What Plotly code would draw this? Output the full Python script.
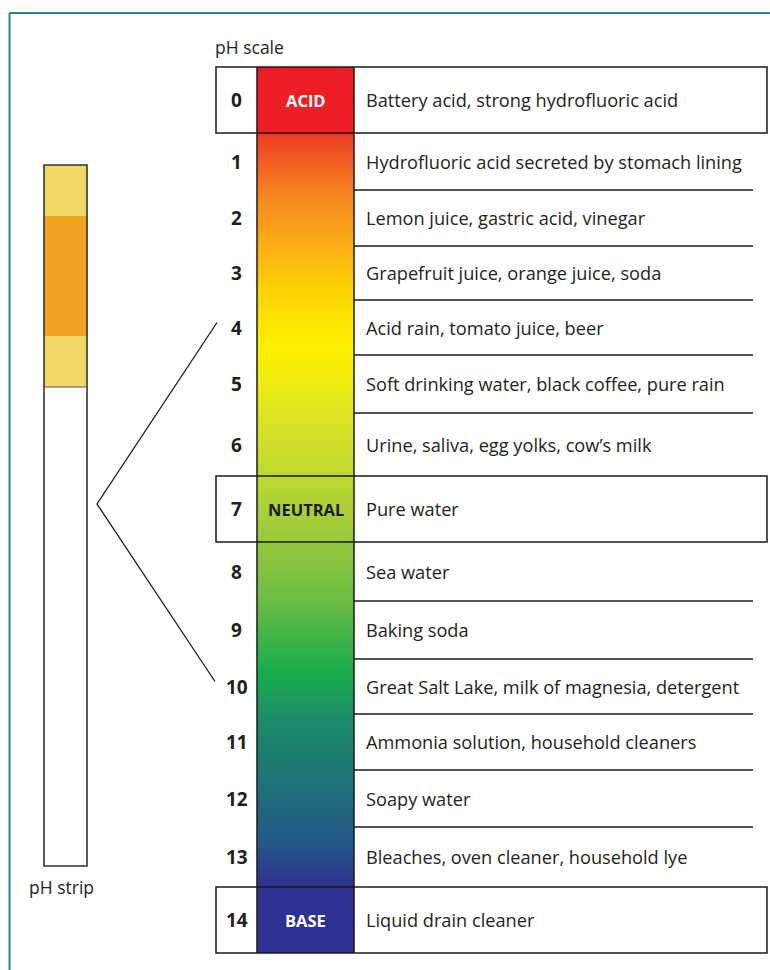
import plotly.graph_objects as go
import numpy as np

# ---------------- data ----------------
ph_values = list(range(15))
descriptions = [
    "Battery acid, strong hydrofluoric acid",
    "Hydrofluoric acid secreted by stomach lining",
    "Lemon juice, gastric acid, vinegar",
    "Grapefruit juice, orange juice, soda",
    "Acid rain, tomato juice, beer",
    "Soft drinking water, black coffee, pure rain",
    "Urine, saliva, egg yolks, cow\u2019s milk",
    "Pure water",
    "Sea water",
    "Baking soda",
    "Great Salt Lake, milk of magnesia, detergent",
    "Ammonia solution, household cleaners",
    "Soapy water",
    "Bleaches, oven cleaner, household lye",
    "Liquid drain cleaner",
]
highlight_ph = [0, 7, 14]
highlight_labels = ["ACID", "NEUTRAL", "BASE"]
highlight_label_colors = ["white", "#1a1a1a", "white"]
strip_band_colors = ["#f2d966", "#f2a321", "#f2d966"]
strip_range_ph = [4, 10]

# ---------------- layout constants ----------------
W, H = 770, 970
row_edges = [67, 133, 190, 246, 300, 355, 413, 476, 542, 601, 659, 714, 770, 827, 887, 953]
num_x0, grad_x0, text_x0, box_x1, sep_x1 = 216, 257, 354, 767, 753
strip_x0, strip_x1, strip_y0, strip_y1 = 44, 87, 165, 866
strip_band_edges = [165, 216, 336, 387]
vertex = (97, 504)
font = "Open Sans"
ink = "#231f20"

grad_stops = [
    (67, "#ed1c24"), (133, "#ed1f24"), (136, "#ee3f24"), (200, "#f68b1f"),
    (250, "#fbb116"), (290, "#fed304"), (350, "#fff200"), (420, "#dbe324"),
    (476, "#c1d831"), (542, "#95c93d"), (600, "#6cbd45"), (672, "#19ad4b"),
    (720, "#1b8c6a"), (790, "#1e6f78"), (845, "#24568a"), (887, "#2e3192"),
    (953, "#2e3192"),
]

centers = [(row_edges[i] + row_edges[i + 1]) / 2 for i in range(len(ph_values))]

fig = go.Figure()

# gradient column as heatmap
ys = np.arange(row_edges[0] + 0.5, row_edges[-1], 1.0)
g0, g1 = grad_stops[0][0], grad_stops[-1][0]
colorscale = [[(p - g0) / (g1 - g0), c] for p, c in grad_stops]
fig.add_trace(go.Heatmap(
    z=ys.reshape(-1, 1), x0=(grad_x0 + text_x0) / 2, dx=text_x0 - grad_x0,
    y=ys, zmin=g0, zmax=g1, colorscale=colorscale, showscale=False,
    hoverinfo="skip",
))

shapes = []
line_k = dict(color="#1a1a1a", width=1.5)

# outer frame
shapes.append(dict(type="line", x0=9.5, y0=13, x1=W + 5, y1=13, line=dict(color="#2a7fa3", width=2)))
shapes.append(dict(type="line", x0=9.5, y0=13, x1=9.5, y1=H + 5, line=dict(color="#2a7fa3", width=2)))

# gradient column borders
for xv in (grad_x0, text_x0):
    shapes.append(dict(type="line", x0=xv, y0=row_edges[0], x1=xv, y1=row_edges[-1], line=line_k))

# highlighted boxes
for p in highlight_ph:
    shapes.append(dict(type="rect", x0=num_x0, x1=box_x1, y0=row_edges[p], y1=row_edges[p + 1], line=line_k))

# separators
for i in range(1, len(row_edges) - 1):
    if (i in highlight_ph) or (i - 1 in highlight_ph):
        continue
    shapes.append(dict(type="line", x0=text_x0, x1=sep_x1, y0=row_edges[i], y1=row_edges[i], line=line_k))

# pH strip
for k, col in enumerate(strip_band_colors):
    shapes.append(dict(type="rect", x0=strip_x0, x1=strip_x1, y0=strip_band_edges[k],
                       y1=strip_band_edges[k + 1], fillcolor=col, line=dict(width=0), layer="below"))
shapes.append(dict(type="rect", x0=strip_x0, x1=strip_x1, y0=strip_y0, y1=strip_y1,
                   line=dict(color="#333333", width=1.6)))
shapes.append(dict(type="line", x0=strip_x0, x1=strip_x1, y0=strip_band_edges[-1], y1=strip_band_edges[-1],
                   line=dict(color="#555555", width=1)))

# connector lines
ytop = centers[strip_range_ph[0]] - 5
ybot = centers[strip_range_ph[1]] - 5
shapes.append(dict(type="path", path=f"M {num_x0+1},{ytop} L {vertex[0]},{vertex[1]} L {num_x0-1},{ybot}",
                   line=dict(color="#1a1a1a", width=1.3)))

annotations = []
for p, d, c in zip(ph_values, descriptions, centers):
    annotations.append(dict(x=(num_x0 + grad_x0) / 2, y=c, text=f"<b>{p}</b>", showarrow=False,
                            xanchor="center", yanchor="middle", font=dict(family=font, size=19, color=ink)))
    annotations.append(dict(x=text_x0 + 10, y=c, text=d, showarrow=False,
                            xanchor="left", yanchor="middle", font=dict(family=font, size=18.2, color=ink)))
for p, lab, col in zip(highlight_ph, highlight_labels, highlight_label_colors):
    annotations.append(dict(x=(grad_x0 + text_x0) / 2, y=centers[p], text=f"<b>{lab}</b>", showarrow=False,
                            xanchor="center", yanchor="middle",
                            font=dict(family=font, size=16.5, color=col)))
annotations.append(dict(x=num_x0 - 3, y=47, text="pH scale", showarrow=False, xanchor="left", yanchor="middle",
                        font=dict(family=font, size=17.5, color=ink)))
annotations.append(dict(x=(strip_x0 + strip_x1) / 2 - 4, y=887, text="pH strip", showarrow=False,
                        xanchor="center", yanchor="middle", font=dict(family=font, size=17.5, color=ink)))

fig.update_layout(
    width=W, height=H, margin=dict(l=0, r=0, t=0, b=0, pad=0),
    paper_bgcolor="white", plot_bgcolor="white",
    xaxis=dict(range=[0, W], visible=False, fixedrange=True),
    yaxis=dict(range=[H, 0], visible=False, fixedrange=True),
    shapes=shapes, annotations=annotations, showlegend=False,
)
fig.write_html("out.html", config={"displayModeBar": False, "staticPlot": True},
               post_script="document.body.style.margin='0';document.body.style.overflow='hidden';")
